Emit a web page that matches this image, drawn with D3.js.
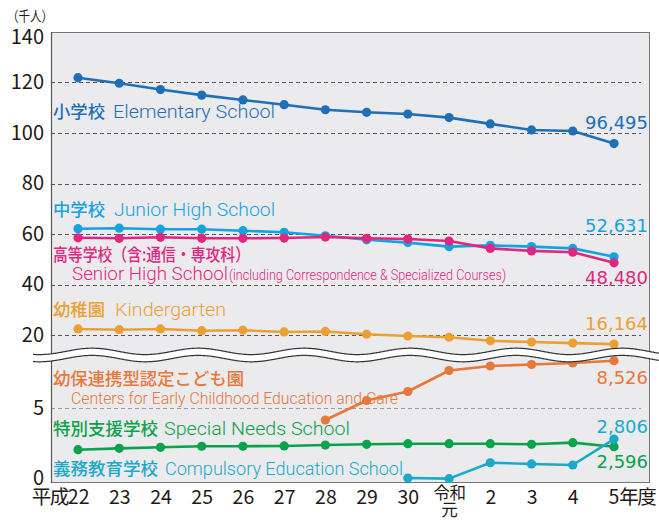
<!DOCTYPE html>
<html><head><meta charset="utf-8">
<script src="https://cdn.jsdelivr.net/npm/d3@7"></script>
<style>
html,body{margin:0;padding:0;background:#fff;}
svg{display:block;}
</style></head>
<body>
<svg id="chart" width="659" height="522"></svg>
<script>
// ---------- data ----------
const categories = ["平成22","23","24","25","26","27","28","29","30","令和元","2","3","4","5年度"];
const elementary = [121.9,119.7,117.2,115.0,113.1,111.2,109.2,108.2,107.5,106.1,103.6,101.2,100.8,95.8];
const juniorHigh = [62.1,62.3,61.9,61.9,61.3,60.7,59.3,57.7,56.6,55.0,55.5,55.0,54.3,51.0];
const seniorHigh = [58.5,58.3,58.7,58.3,58.3,58.4,58.8,58.3,58.0,57.2,54.3,53.3,52.8,48.6];
const kindergarten = [22.4,22.1,22.4,21.7,21.9,21.2,21.4,20.3,19.6,19.1,17.7,17.2,16.8,16.4];
const centers = [null,null,null,null,null,null,4.2,5.5,6.1,7.5,7.8,7.9,8.0,8.15];
const specialNeeds = [2.22,2.31,2.38,2.45,2.45,2.47,2.53,2.58,2.62,2.62,2.62,2.58,2.69,2.42];
const compulsory = [null,null,null,null,null,null,null,null,0.33,0.29,1.35,1.27,1.2,2.93];
const upperTicks = [140,120,100,80,60,40,20];
const lowerTicks = [5,0];
const upperGrid = [120,100,80,60,40,20];
const lowerGrid = [5];
const endLabels = ["96,495","52,631","48,480","16,164","8,526","2,806","2,596"];

// ---------- layout ----------
const svg = d3.select("#chart");
const L = 51, R = 650, T = 32, B = 483;
const x = d3.scalePoint().domain(categories).range([78, 614]);
const yUp = d3.scaleLinear().domain([20, 140]).range([335, 32]);
const yLo = d3.scaleLinear().domain([0, 5]).range([483, 408]);

const JP = "'Noto Sans CJK JP','Noto Sans',sans-serif";
const EN = "Roboto,'Noto Sans',sans-serif";
const NUM = "'DejaVu Sans',Verdana,sans-serif";

// background
svg.append("rect").attr("x", L).attr("y", T).attr("width", R - L).attr("height", B - T)
  .attr("fill", "#ebebee");

// gridlines
const grid = svg.append("g").attr("stroke", "#555").attr("stroke-width", 1).attr("stroke-dasharray", "4,3");
upperGrid.forEach(v => grid.append("line").attr("x1", L).attr("x2", 641)
  .attr("y1", Math.round(yUp(v)) + 0.5).attr("y2", Math.round(yUp(v)) + 0.5));
lowerGrid.forEach(v => grid.append("line").attr("x1", L).attr("x2", 641)
  .attr("y1", Math.round(yLo(v)) + 0.5).attr("y2", Math.round(yLo(v)) + 0.5).attr("stroke", "#999"));

// frame
svg.append("rect").attr("x", L + 0.5).attr("y", T + 0.5).attr("width", R - L - 1).attr("height", B - T - 1)
  .attr("fill", "none").attr("stroke", "#777").attr("stroke-width", 1);
svg.append("line").attr("x1", L + 0.5).attr("x2", L + 0.5).attr("y1", T).attr("y2", B)
  .attr("stroke", "#555").attr("stroke-width", 1.2);

// y axes (labels only)
const axUp = d3.axisLeft(yUp).tickValues(upperTicks).tickSize(0).tickPadding(7).tickFormat(d3.format("d"));
const axLo = d3.axisLeft(yLo).tickValues(lowerTicks).tickSize(0).tickPadding(7).tickFormat(d3.format("d"));
[svg.append("g").attr("transform", `translate(${L},0)`).call(axUp),
 svg.append("g").attr("transform", `translate(${L},0)`).call(axLo)].forEach(g => {
  g.select(".domain").remove();
  g.selectAll("text").attr("font-family", JP).attr("font-size", 20).attr("fill", "#231815");
});
svg.selectAll(".tick").filter(d => d === 140).select("text").attr("y", 5);
svg.selectAll(".tick").filter(d => d === 0).select("text").attr("y", -5);

// x axis
const axX = d3.axisBottom(x).tickSize(0).tickPadding(7);
const gx = svg.append("g").attr("transform", `translate(0,${B})`).call(axX);
gx.select(".domain").remove();
gx.selectAll("text").attr("font-family", JP).attr("font-size", 19.5).attr("fill", "#231815")
  .each(function (d) {
    const t = d3.select(this);
    if (d === "平成22") {
      t.text("").attr("text-anchor", "end").attr("dx", "11");
      t.append("tspan").text("平成").attr("letter-spacing", "-1.5");
      t.append("tspan").text("22");
    } else if (d === "令和元") {
      t.text("").attr("font-size", 16.5).attr("y", 4);
      t.append("tspan").text("令和").attr("x", 0).attr("letter-spacing", "-0.5");
      t.append("tspan").text("元").attr("x", 0).attr("dy", "1.05em");
    } else if (d === "5年度") {
      t.text("").attr("text-anchor", "start").attr("dx", "-6");
      t.append("tspan").text("5");
      t.append("tspan").text("年度").attr("letter-spacing", "-1.5");
    }
  });

// unit
svg.append("text").attr("x", 7).attr("y", 21).text("（千人）")
  .attr("font-family", JP).attr("font-size", 14).attr("fill", "#231815")
  .attr("textLength", 46).attr("lengthAdjust", "spacingAndGlyphs");

// series
const series = [
  {vals: elementary, y: yUp, color: "#1e6fb5"},
  {vals: juniorHigh, y: yUp, color: "#13a4e0"},
  {vals: seniorHigh, y: yUp, color: "#e0267f"},
  {vals: kindergarten, y: yUp, color: "#eba034"},
  {vals: centers, y: yLo, color: "#e8773a"},
  {vals: specialNeeds, y: yLo, color: "#0aa24b"},
  {vals: compulsory, y: yLo, color: "#1aaac8"}
];
series.forEach(s => {
  const pts = categories.map((c, j) => ({c, v: s.vals[j]})).filter(p => p.v != null);
  const line = d3.line().x(p => x(p.c)).y(p => s.y(p.v));
  svg.append("path").attr("d", line(pts)).attr("fill", "none")
    .attr("stroke", s.color).attr("stroke-width", 2.6).attr("stroke-linejoin", "round");
  svg.append("g").selectAll("circle").data(pts).join("circle")
    .attr("cx", p => x(p.c)).attr("cy", p => s.y(p.v)).attr("r", 4.6).attr("fill", s.color);
});

// break wave
const waveX = d3.range(33, 660, 1);
const period = 106, amp = 3.2;
const wy = (xx, off) => 355 + off + amp * Math.sin((xx - 33) / period * 2 * Math.PI + 1.2);
const topPts = waveX.map(xx => [xx, wy(xx, -3.6)]);
const botPts = waveX.map(xx => [xx, wy(xx, 3.6)]);
const ln = d3.line();
svg.append("path").attr("d", ln(topPts.concat(botPts.slice().reverse())) + "Z").attr("fill", "#fff");
svg.append("path").attr("d", ln(topPts)).attr("fill", "none").attr("stroke", "#333").attr("stroke-width", 1.2);
svg.append("path").attr("d", ln(botPts)).attr("fill", "none").attr("stroke", "#333").attr("stroke-width", 1.2);

// series labels: each part placed at x with a target width
function label(yy, color, parts) {
  const t = svg.append("text").attr("y", yy).attr("fill", color);
  parts.forEach(p => {
    t.append("tspan").text(p.t).attr("x", p.x).attr("font-family", p.f)
      .attr("font-size", p.s).attr("font-weight", p.w || 400)
      .attr("textLength", p.tl).attr("lengthAdjust", "spacingAndGlyphs");
  });
}
const jp = (t, x0, tl) => ({t, x: x0, tl, f: JP, s: 17.5, w: 500});
const en = (t, x0, tl, s) => ({t, x: x0, tl, f: EN, s: s || 19, w: 300});
label(118, "#1e6fb5", [jp("小学校", 53, 52), en("Elementary School", 113, 162)]);
label(216, "#13a4e0", [jp("中学校", 53, 52), en("Junior High School", 114, 161)]);
label(261, "#e0267f", [jp("高等学校（含:通信・専攻科）", 53, 197)]);
label(280, "#e0267f", [en("Senior High School", 72, 156), en("(including Correspondence & Specialized Courses)", 229, 277, 14)]);
label(316, "#eba034", [jp("幼稚園", 53, 52), en("Kindergarten", 115, 111)]);
label(385, "#e8773a", [jp("幼保連携型認定こども園", 53, 191)]);
label(404, "#e8773a", [en("Centers for Early Childhood Education and Care", 71, 327, 17)]);
label(435, "#0aa24b", [jp("特別支援学校", 53, 105), en("Special Needs School", 164, 186)]);
label(475, "#1aaac8", [jp("義務教育学校", 53, 105), en("Compulsory Education School", 165, 238)]);

// end value labels
const endY = [129, 232, 284, 330, 384, 433, 468];
const endColor = [0, 1, 2, 3, 4, 6, 5];
endLabels.forEach((s, i) => {
  svg.append("text").attr("x", 648).attr("y", endY[i]).attr("text-anchor", "end").text(s)
    .attr("font-family", NUM).attr("font-size", 18).attr("font-weight", 400)
    .attr("fill", series[endColor[i]].color);
});
</script>
</body></html>
